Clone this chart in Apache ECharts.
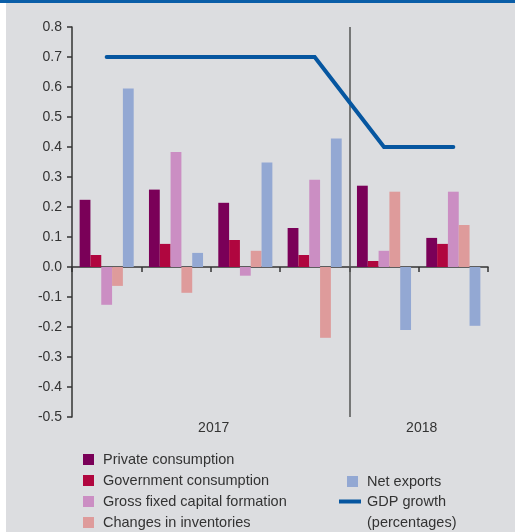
<!DOCTYPE html>
<html>
<head>
<meta charset="utf-8">
<script src="https://cdn.jsdelivr.net/npm/echarts@6/dist/echarts.min.js"></script>
<style>
  html, body { margin: 0; padding: 0; background: #fff; }
  #chart { width: 515px; height: 532px; }
</style>
</head>
<body>
<div id="chart"></div>
<script>
// quarters: 2017 Q1-Q4, 2018 Q1-Q2
var quarters = ['2017Q1', '2017Q2', '2017Q3', '2017Q4', '2018Q1', '2018Q2'];
var years = ['2017', '2018'];
var privateCons = [0.224, 0.258, 0.214, 0.130, 0.271, 0.097];
var govCons = [0.040, 0.077, 0.090, 0.040, 0.020, 0.077];
var grossFixed = [-0.126, 0.383, -0.029, 0.291, 0.054, 0.251];
var inventories = [-0.063, -0.086, 0.054, -0.236, 0.251, 0.140];
var netExports = [0.595, 0.047, 0.348, 0.428, -0.210, -0.196];
var gdpGrowth = [0.7, 0.7, 0.7, 0.7, 0.4, 0.4];

var font = 'Liberation Sans';
var txt = '#333';

var chart = echarts.init(document.getElementById('chart'));

function bar(name, data, color) {
  return {
    name: name,
    type: 'bar',
    data: data,
    barGap: '0%',
    barCategoryGap: '22%',
    itemStyle: { color: color },
    emphasis: { disabled: true }
  };
}

var option = {
  backgroundColor: '#dcdde0',
  animation: false,
  textStyle: { fontFamily: font },
  graphic: [
    { type: 'rect', left: 0, top: 0, shape: { width: 6, height: 532 }, style: { fill: '#fff' }, silent: true },
    { type: 'rect', left: 0, top: 0, shape: { width: 515, height: 3 }, style: { fill: '#0a5ea8' }, silent: true }
  ],
  grid: { left: 72, right: 27, top: 27, bottom: 115 },
  legend: [
    {
      orient: 'vertical', left: 83, top: 452, padding: 0,
      itemWidth: 11, itemHeight: 11, itemGap: 6, icon: 'rect',
      textStyle: { fontSize: 14.5, color: txt, padding: [0, 0, 0, 4], fontFamily: font },
      data: ['Private consumption', 'Government consumption', 'Gross fixed capital formation', 'Changes in inventories']
    },
    {
      orient: 'vertical', left: 347, top: 474, padding: 0,
      itemWidth: 11, itemHeight: 11, icon: 'rect',
      textStyle: { fontSize: 14.5, color: txt, padding: [0, 0, 0, 4], fontFamily: font },
      data: ['Net exports']
    },
    {
      orient: 'vertical', left: 339, top: 470, padding: 0,
      itemWidth: 22, itemHeight: 4, icon: 'rect',
      // empty first line keeps the icon level with "GDP growth"
      formatter: function (n) { return ' \n' + n + '\n(percentages)'; },
      textStyle: { fontSize: 14.5, color: txt, lineHeight: 21, padding: [0, 0, 0, 1], fontFamily: font },
      data: ['GDP growth']
    }
  ],
  xAxis: [
    {
      type: 'category',
      data: quarters,
      axisLine: { onZero: true, lineStyle: { color: '#333', width: 1.5 } },
      axisTick: { show: true, length: 5, lineStyle: { color: '#333', width: 1.5 } },
      axisLabel: { show: false },
      splitLine: { show: false }
    },
    {
      type: 'value',
      position: 'bottom',
      min: 0, max: 6, interval: 1,
      axisLine: { show: false, onZero: false },
      axisTick: { show: false },
      splitLine: { show: false },
      axisLabel: {
        margin: 4,
        fontSize: 14,
        color: txt,
        padding: [0, 0, 0, 6],
        formatter: function (v) {
          if (v === 2) return years[0];
          if (v === 5) return years[1];
          return '';
        }
      }
    }
  ],
  yAxis: {
    type: 'value',
    min: -0.5, max: 0.8, interval: 0.1,
    axisLine: { show: true, lineStyle: { color: '#333', width: 1.5 } },
    axisTick: { show: true, length: 5, lineStyle: { color: '#333', width: 1.5 } },
    splitLine: { show: false },
    axisLabel: {
      fontSize: 14, color: txt, margin: 10,
      formatter: function (v) { return v.toFixed(1); }
    }
  },
  series: [
    bar('Private consumption', privateCons, '#7a0058'),
    bar('Government consumption', govCons, '#b0063f'),
    bar('Gross fixed capital formation', grossFixed, '#cb8ec3'),
    bar('Changes in inventories', inventories, '#de9b9b'),
    bar('Net exports', netExports, '#93a8d3'),
    {
      name: 'GDP growth',
      type: 'line',
      data: gdpGrowth,
      symbol: 'none',
      itemStyle: { color: '#0656a0' },
      lineStyle: { color: '#0656a0', width: 4, cap: 'round', join: 'miter' },
      z: 5
    },
    {
      name: 'divider',
      type: 'line',
      xAxisIndex: 1,
      data: [],
      markLine: {
        silent: true,
        symbol: 'none',
        label: { show: false },
        lineStyle: { color: '#555', width: 1.5, type: 'solid' },
        data: [{ xAxis: 4 }]
      }
    }
  ]
};

chart.setOption(option);
</script>
</body>
</html>
